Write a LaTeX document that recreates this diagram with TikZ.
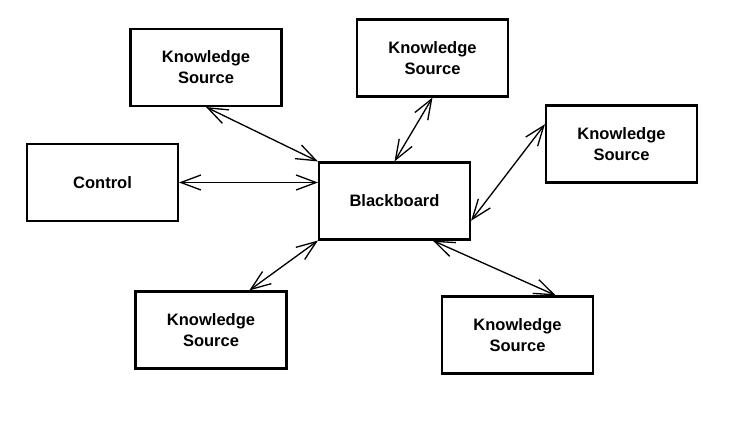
\documentclass[tikz,border=0pt]{standalone}
\usepackage{fontspec}
\setmainfont{Liberation Sans}
\usetikzlibrary{calc,arrows.meta}

\begin{document}
\begin{tikzpicture}[x=0.02cm, y=-0.02cm,
		caja/.style={draw, line width=1.2pt, minimum width=3.02cm, minimum height=1.54cm,
			inner sep=0pt, align=center, font=\bfseries\fontsize{9.4}{12}\selectfont},
		flecha/.style={{Straight Barb[length=0.4cm,width=0.3cm]}-{Straight Barb[length=0.4cm,width=0.3cm]}, line width=0.75pt}]
		
		% 1. Marco de la figura
		\useasboundingbox (0,0) rectangle (738,422);
		
		% 2. Cajas
		\node[caja] (bb)   at (394.5,201)   {Blackboard};
		\node[caja] (ctrl) at (102.5,182.5) {Control};
		\node[caja] (ksA)  at (206,67.5)    {Knowledge\\Source};
		\node[caja] (ksB)  at (432.5,58)    {Knowledge\\Source};
		\node[caja] (ksC)  at (621.5,144)   {Knowledge\\Source};
		\node[caja] (ksD)  at (211,330)     {Knowledge\\Source};
		\node[caja] (ksE)  at (517.5,335)   {Knowledge\\Source};
		
		% 3. Flechas dobles hacia el Blackboard
		\draw[flecha] (ctrl.east) -- (ctrl.east -| bb.west);
		\draw[flecha] (ksA.south) -- (bb.north west);
		\draw[flecha] (ksB.south) -- (bb.north);
		\draw[flecha] ($(ksC.north west)!0.25!(ksC.south west)$) -- ($(bb.north east)!0.75!(bb.south east)$);
		\draw[flecha] (bb.south west) -- ($(ksD.north west)!0.75!(ksD.north east)$);
		\draw[flecha] ($(bb.south west)!0.75!(bb.south east)$) -- ($(ksE.north west)!0.75!(ksE.north east)$);
		
	\end{tikzpicture}
\end{document}
